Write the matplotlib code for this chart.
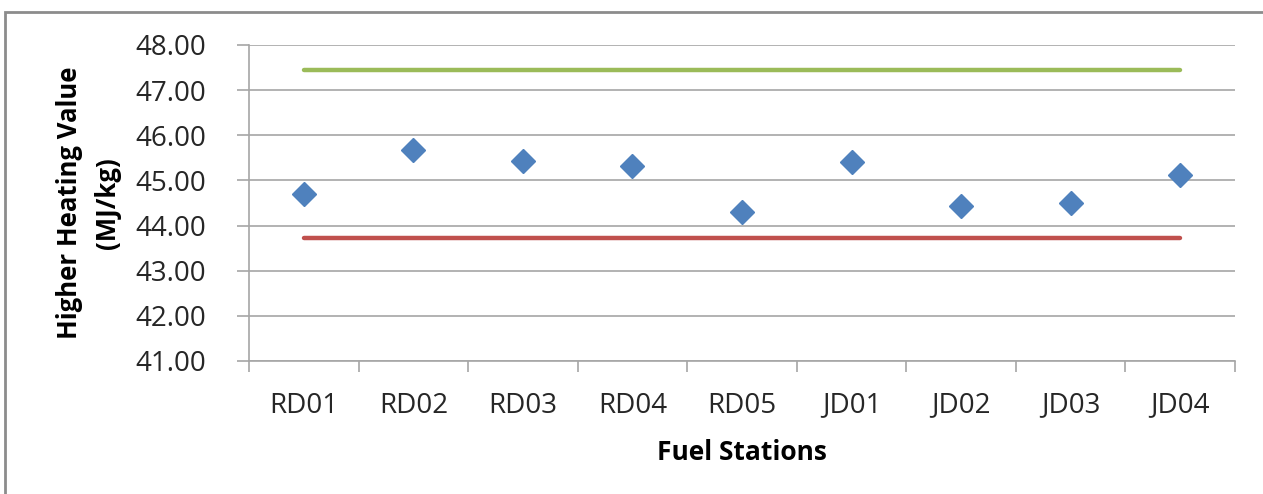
import matplotlib
matplotlib.use('Agg')
import matplotlib.pyplot as plt
from matplotlib.patches import Rectangle

# data
stations = ['RD01', 'RD02', 'RD03', 'RD04', 'RD05', 'JD01', 'JD02', 'JD03', 'JD04']
hhv = [44.70, 45.67, 45.43, 45.32, 44.31, 45.41, 44.44, 44.49, 45.12]
upperLimit = 47.45
lowerLimit = 43.73
yTicks = [41, 42, 43, 44, 45, 46, 47, 48]

plt.rcParams['font.family'] = ['Open Sans', 'DejaVu Sans']

fig = plt.figure(figsize=(12.63, 4.94), dpi=100)
ax = fig.add_axes([249 / 1263, 1 - 361 / 494, (1235 - 249) / 1263, (361 - 45) / 494])

x = list(range(len(stations)))
ax.plot([x[0], x[-1]], [upperLimit] * 2, color='#9BBB59', lw=3.2, solid_capstyle='round', zorder=3)
ax.plot([x[0], x[-1]], [lowerLimit] * 2, color='#C0504D', lw=3.2, solid_capstyle='round', zorder=3)
ax.plot(x, hhv, 'D', color='#4F81BD', markersize=12, ls='none', zorder=4)

ax.set_xlim(-0.5, len(stations) - 0.5)
ax.set_ylim(41, 48)
ax.set_yticks(yTicks)
ax.set_yticklabels(['{:.2f}'.format(v) for v in yTicks])
ax.set_xticks(x)
ax.set_xticklabels(stations)
ax.set_xticks([i - 0.5 for i in range(len(stations) + 1)], minor=True)

ax.grid(True, axis='y', color='#A6A6A6', lw=1.2)
ax.set_axisbelow(True)
for s in ['top', 'right']:
    ax.spines[s].set_visible(False)
for s in ['left', 'bottom']:
    ax.spines[s].set_color('#A6A6A6')
    ax.spines[s].set_linewidth(1.2)

ax.tick_params(axis='y', direction='out', length=9, width=1.2, color='#A6A6A6', labelsize=20, pad=22,
               labelcolor='#262626')
ax.tick_params(axis='x', which='major', length=0, labelsize=20, pad=22, labelcolor='#262626')
ax.tick_params(axis='x', which='minor', direction='out', length=8, width=1.2, color='#A6A6A6')

ax.set_ylabel('Higher Heating Value\n(MJ/kg)', fontsize=18.5, fontweight='bold', labelpad=10, linespacing=1.55)
ax.set_xlabel('Fuel Stations', fontsize=19, fontweight='bold', labelpad=14)

# chart border
fig.patches.append(Rectangle((5 / 1263, -0.05), 1.1, 1 - 12 / 494 + 0.05, transform=fig.transFigure,
                             fill=False, edgecolor='#8C8C8C', lw=2))

fig.savefig('out.png', dpi=100)
